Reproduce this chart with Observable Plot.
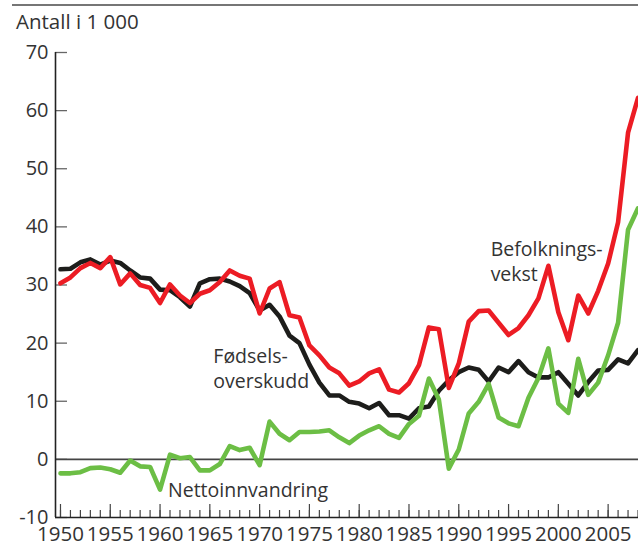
<!DOCTYPE html>
<html><head><meta charset="utf-8">
<script src="https://cdn.jsdelivr.net/npm/d3@7"></script>
<script src="https://cdn.jsdelivr.net/npm/@observablehq/plot@0.6"></script>
<style>
body{margin:0;background:#fff;font-family:"Open Sans",sans-serif;}
#wrap{position:relative;width:638px;height:547px;overflow:hidden}
#rule{position:absolute;left:12px;top:4px;width:626px;height:2px;background:#767676}
#title{position:absolute;left:16px;top:9px;font-size:20.5px;color:#333;line-height:1.2}
</style></head><body><div id="wrap"><div id="rule"></div><div id="title">Antall i 1 000</div></div>
<script>
const years = d3.range(1950, 2009);
// Fødselsoverskudd (natural increase), thousands
const natural = [32.7,32.8,33.9,34.4,33.5,34.2,33.8,32.5,31.3,31.1,
  29.2,29.1,27.9,26.3,30.3,31.0,31.1,30.6,29.8,28.6,
  25.6,26.6,24.6,21.3,20.0,16.3,13.2,11.0,11.0,9.9,
  9.6,8.8,9.7,7.6,7.6,7.0,8.8,9.1,11.8,13.6,
  15.0,15.8,15.4,13.4,15.8,15.0,16.9,15.0,14.1,14.1,
  15.0,13.0,11.0,13.3,15.3,15.4,17.2,16.5,18.8];
// Befolkningsvekst (population growth)
const growth = [30.3,31.3,32.9,33.8,32.9,34.8,30.1,32.0,30.0,29.5,
  26.9,30.1,28.2,26.9,28.5,29.1,30.5,32.5,31.6,31.1,
  25.1,29.4,30.5,24.8,24.4,19.6,17.9,15.8,14.8,12.7,
  13.4,14.8,15.5,12.0,11.5,13.1,16.2,22.7,22.4,12.3,
  16.5,23.7,25.5,25.6,23.5,21.4,22.6,24.8,27.7,33.3,
  25.3,20.5,28.2,25.1,29.0,33.7,40.8,56.2,62.2];
// Nettoinnvandring (net immigration)
const migration = [-2.4,-2.4,-2.2,-1.5,-1.4,-1.7,-2.3,-0.2,-1.2,-1.3,
  -5.2,0.8,0.2,0.4,-1.9,-1.9,-0.8,2.3,1.6,2.0,
  -1.0,6.5,4.4,3.3,4.7,4.7,4.8,5.0,3.8,2.8,
  4.1,5.0,5.7,4.4,3.7,6.1,7.5,13.9,10.3,-1.6,
  1.7,7.9,9.9,13.0,7.2,6.2,5.7,10.6,14.0,19.1,
  9.6,8.0,17.3,11.1,13.2,17.9,23.5,39.5,43.2];

const yTicks = [-10, 0, 10, 20, 30, 40, 50, 60, 70];
const majorYears = d3.range(1950, 2009, 5);
const xDomain = [1949.5, 2008.05];
const yDomain = [-10, 70];

const labels = [
  {x: 1965.35, y: 17.6, text: "Fødsels-"},
  {x: 1965.35, y: 13.3, text: "overskudd"},
  {x: 1993.2, y: 36.0, text: "Befolknings-"},
  {x: 1993.2, y: 31.7, text: "vekst"},
  {x: 1960.8, y: -5.4, text: "Nettoinnvandring"}
];

const data = years.map((year, i) => ({year, natural: natural[i], growth: growth[i], migration: migration[i]}));

const W = 638, H = 547, ML = 55, MR = 0, MT = 52, MB = 30;
const fw = W - ML - MR, fh = H - MT - MB;

const plot = Plot.plot({
  width: W, height: H,
  marginLeft: ML, marginRight: MR, marginTop: MT, marginBottom: MB,
  style: {fontFamily: "Open Sans, sans-serif", fontSize: "20px", color: "#333", background: "transparent", overflow: "visible"},
  x: {domain: xDomain, axis: null},
  y: {domain: yDomain, axis: null},
  marks: [
    Plot.ruleY(yTicks, {y: d => d, stroke: "#666", strokeWidth: 1.3, insetRight: fw - 12}),
    Plot.ruleX(years, {x: d => d, stroke: "#444", strokeWidth: 1.2, insetTop: fh - 7}),
    Plot.ruleX(majorYears, {x: d => d, stroke: "#444", strokeWidth: 1.2, insetTop: fh - 13}),
    Plot.ruleY([0], {stroke: "#444", strokeWidth: 1.6}),
    Plot.ruleY([yDomain[0]], {stroke: "#222", strokeWidth: 1.6}),
    Plot.ruleX([xDomain[0]], {stroke: "#222", strokeWidth: 1.6}),
    Plot.axisY({ticks: yTicks, tickSize: 0, tickPadding: 7, label: null, tickFormat: d => String(d), fill: "#333", fontSize: 20}),
    Plot.axisX({ticks: majorYears, tickSize: 0, tickPadding: 9, label: null, tickFormat: d => String(d), fill: "#333", fontSize: 20.5}),
    Plot.line(data, {x: "year", y: "natural", stroke: "#1d1d1b", strokeWidth: 4.6}),
    Plot.line(data, {x: "year", y: "migration", stroke: "#6cbe45", strokeWidth: 4.6}),
    Plot.line(data, {x: "year", y: "growth", stroke: "#ec1c24", strokeWidth: 4.6}),
    Plot.text(labels, {x: "x", y: "y", text: "text", textAnchor: "start", lineAnchor: "middle", fill: "#333", fontSize: 19.5})
  ]
});
document.getElementById("wrap").prepend(plot);
</script>
</body></html>
